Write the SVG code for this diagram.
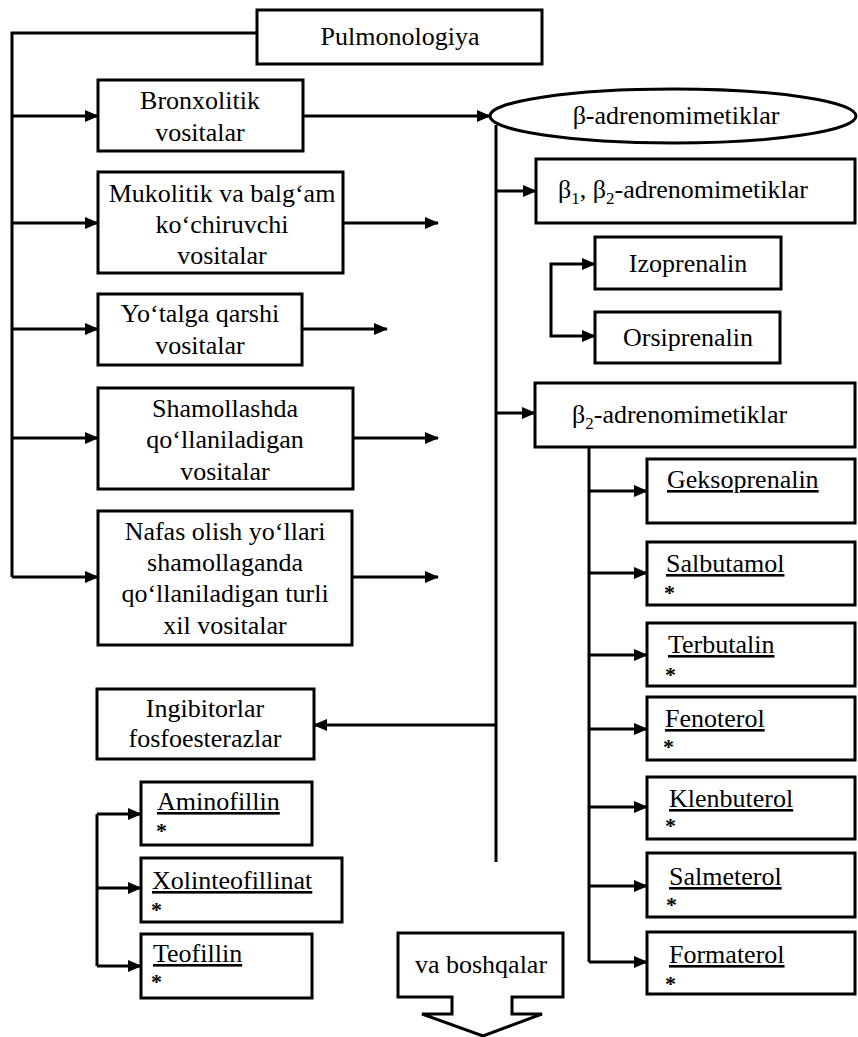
<svg xmlns="http://www.w3.org/2000/svg" width="858" height="1037" viewBox="0 0 858 1037">
  <style>
    .box { fill: #fff; stroke: #000; stroke-width: 3; }
    .t { font-family: "Liberation Serif", "Times New Roman", serif; font-size: 26px; fill: #000; }
    .c { text-anchor: middle; }
    .u { text-decoration: underline; }
    .star { font-family: "Liberation Serif", serif; font-size: 22px; font-weight: bold; fill: #000; }
    .ln { fill: none; stroke: #000; stroke-width: 3; }
    .arr { marker-end: url(#ah); }
  </style>
  <defs>
    <marker id="ah" markerUnits="userSpaceOnUse" markerWidth="14" markerHeight="12" refX="13" refY="6" orient="auto">
      <path d="M0,0 L14,6 L0,12 Z" fill="#000"/>
    </marker>
  </defs>
  <rect width="858" height="1037" fill="#fff"/>

  <!-- connectors -->
  <g id="connectors">
    <path class="ln" d="M257,33 H12 V577"/>
    <path class="ln arr" d="M12,116 H98"/>
    <path class="ln arr" d="M12,223 H98"/>
    <path class="ln arr" d="M12,329 H98"/>
    <path class="ln arr" d="M12,438 H98"/>
    <path class="ln arr" d="M12,577 H98"/>
    <path class="ln arr" d="M303,116 H490"/>
    <path class="ln arr" d="M343,223 H438"/>
    <path class="ln arr" d="M302,329 H387"/>
    <path class="ln arr" d="M353,438 H438"/>
    <path class="ln arr" d="M352,577 H438"/>
    <path class="ln" d="M496,125 V862"/>
    <path class="ln arr" d="M496,191 H536"/>
    <path class="ln arr" d="M496,413 H535"/>
    <path class="ln arr" d="M496,725 H314"/>
    <path class="ln arr" d="M551,300 V264 H595"/>
    <path class="ln arr" d="M551,300 V336 H595"/>
    <path class="ln" d="M589,447 V962"/>
    <path class="ln arr" d="M589,491 H647"/>
    <path class="ln arr" d="M589,573 H647"/>
    <path class="ln arr" d="M589,655 H647"/>
    <path class="ln arr" d="M589,729 H647"/>
    <path class="ln arr" d="M589,807 H647"/>
    <path class="ln arr" d="M589,886 H647"/>
    <path class="ln arr" d="M589,962 H647"/>
    <path class="ln" d="M97,814 V966"/>
    <path class="ln arr" d="M97,814 H141"/>
    <path class="ln arr" d="M97,888 H141"/>
    <path class="ln arr" d="M97,966 H141"/>
  </g>

  <!-- left column -->
  <g id="pulmonologiya">
    <rect class="box" x="257" y="10" width="285" height="54"/>
    <text class="t c" x="400" y="45">Pulmonologiya</text>
  </g>
  <g id="bronxolitik">
    <rect class="box" x="98" y="80" width="205" height="71"/>
    <text class="t c" x="200" y="109">Bronxolitik</text>
    <text class="t c" x="200" y="141">vositalar</text>
  </g>
  <g id="mukolitik">
    <rect class="box" x="98" y="172" width="245" height="101"/>
    <text class="t c" x="222" y="202">Mukolitik va balg‘am</text>
    <text class="t c" x="222" y="233">ko‘chiruvchi</text>
    <text class="t c" x="222" y="264">vositalar</text>
  </g>
  <g id="yotalga">
    <rect class="box" x="98" y="294" width="204" height="71"/>
    <text class="t c" x="200" y="322">Yo‘talga qarshi</text>
    <text class="t c" x="200" y="354">vositalar</text>
  </g>
  <g id="shamollashda">
    <rect class="box" x="98" y="388" width="255" height="101"/>
    <text class="t c" x="225" y="417">Shamollashda</text>
    <text class="t c" x="225" y="448">qo‘llaniladigan</text>
    <text class="t c" x="225" y="480">vositalar</text>
  </g>
  <g id="nafas">
    <rect class="box" x="98" y="511" width="254" height="134"/>
    <text class="t c" x="225" y="540">Nafas olish yo‘llari</text>
    <text class="t c" x="225" y="571">shamollaganda</text>
    <text class="t c" x="225" y="602">qo‘llaniladigan turli</text>
    <text class="t c" x="225" y="634">xil vositalar</text>
  </g>
  <g id="ingibitorlar">
    <rect class="box" x="97" y="689" width="217" height="70"/>
    <text class="t c" x="205" y="717">Ingibitorlar</text>
    <text class="t c" x="205" y="747">fosfoesterazlar</text>
  </g>
  <g id="aminofillin">
    <rect class="box" x="141" y="782" width="171" height="63"/>
    <text class="t u" x="157" y="810">Aminofillin</text>
    <text class="star" x="156" y="838">*</text>
  </g>
  <g id="xolinteofillinat">
    <rect class="box" x="141" y="858" width="201" height="64"/>
    <text class="t u" x="152" y="889">Xolinteofillinat</text>
    <text class="star" x="151" y="917">*</text>
  </g>
  <g id="teofillin">
    <rect class="box" x="141" y="934" width="171" height="64"/>
    <text class="t u" x="153" y="962">Teofillin</text>
    <text class="star" x="151" y="989">*</text>
  </g>
  <g id="va-boshqalar">
    <path class="box" d="M398,933 H563 V997 H512 V1014 H542 L483,1036 L422,1014 H452 V997 H398 Z"/>
    <text class="t c" x="481" y="973">va boshqalar</text>
  </g>

  <!-- right column -->
  <g id="beta-adrenomimetiklar">
    <ellipse class="box" cx="673" cy="116" rx="183" ry="27"/>
    <text class="t c" x="676" y="124">β-adrenomimetiklar</text>
  </g>
  <g id="beta12">
    <rect class="box" x="536" y="159" width="319" height="64"/>
    <text class="t" x="558" y="198">β<tspan font-size="17" dy="6">1</tspan><tspan dy="-6">, β</tspan><tspan font-size="17" dy="6">2</tspan><tspan dy="-6">-adrenomimetiklar</tspan></text>
  </g>
  <g id="izoprenalin">
    <rect class="box" x="595" y="237" width="186" height="52"/>
    <text class="t c" x="688" y="272">Izoprenalin</text>
  </g>
  <g id="orsiprenalin">
    <rect class="box" x="595" y="312" width="185" height="51"/>
    <text class="t c" x="688" y="346">Orsiprenalin</text>
  </g>
  <g id="beta2">
    <rect class="box" x="535" y="383" width="320" height="64"/>
    <text class="t" x="572" y="423">β<tspan font-size="17" dy="6">2</tspan><tspan dy="-6">-adrenomimetiklar</tspan></text>
  </g>
  <g id="geksoprenalin">
    <rect class="box" x="647" y="459" width="208" height="64"/>
    <text class="t u" x="667" y="488">Geksoprenalin</text>
  </g>
  <g id="salbutamol">
    <rect class="box" x="647" y="542" width="208" height="63"/>
    <text class="t u" x="666" y="572">Salbutamol</text>
    <text class="star" x="664" y="600">*</text>
  </g>
  <g id="terbutalin">
    <rect class="box" x="647" y="623" width="208" height="63"/>
    <text class="t u" x="668" y="653">Terbutalin</text>
    <text class="star" x="665" y="682">*</text>
  </g>
  <g id="fenoterol">
    <rect class="box" x="647" y="697" width="208" height="63"/>
    <text class="t u" x="665" y="727">Fenoterol</text>
    <text class="star" x="663" y="754">*</text>
  </g>
  <g id="klenbuterol">
    <rect class="box" x="647" y="777" width="208" height="62"/>
    <text class="t u" x="669" y="807">Klenbuterol</text>
    <text class="star" x="665" y="833">*</text>
  </g>
  <g id="salmeterol">
    <rect class="box" x="647" y="853" width="208" height="64"/>
    <text class="t u" x="669" y="885">Salmeterol</text>
    <text class="star" x="666" y="912">*</text>
  </g>
  <g id="formaterol">
    <rect class="box" x="647" y="932" width="208" height="62"/>
    <text class="t u" x="669" y="963">Formaterol</text>
    <text class="star" x="665" y="991">*</text>
  </g>
</svg>
